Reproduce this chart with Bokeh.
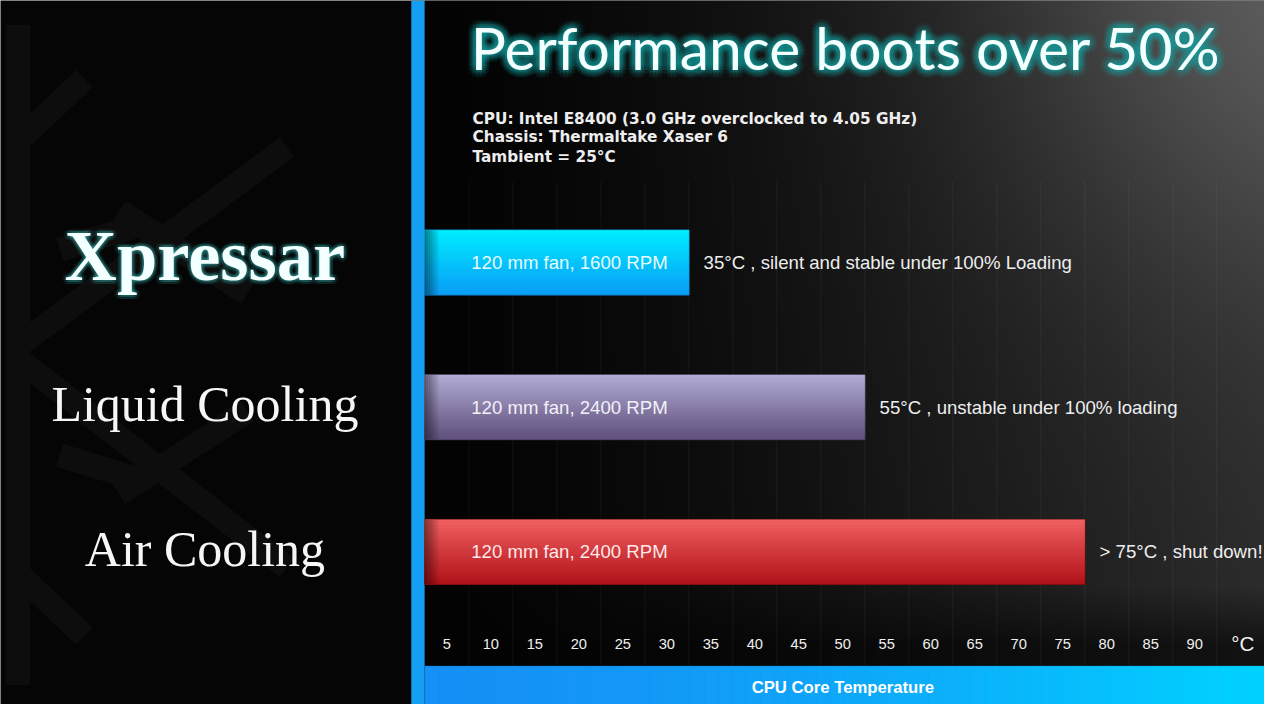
import numpy as np
from bokeh.plotting import figure
from bokeh.models import Range1d
from bokeh.core.properties import value
from bokeh.embed import file_html
from bokeh.resources import INLINE

# ---------------- data ----------------
categories = ["Xpressar", "Liquid Cooling", "Air Cooling"]
core_temp = [35, 55, 80]                       # bar end on the temperature scale (°C)
fan_setup = ["120 mm fan, 1600 RPM", "120 mm fan, 2400 RPM", "120 mm fan, 2400 RPM"]
outcome = ["35°C , silent and stable under 100% Loading",
           "55°C , unstable under 100% loading",
           "> 75°C , shut down!"]
tick_values = [5, 10, 15, 20, 25, 30, 35, 40, 45, 50, 55, 60, 65, 70, 75, 80, 85, 90]
tick_labels = ["5", "10", "15", "20", "25", "30", "35", "40", "45", "50",
               "55", "60", "65", "70", "75", "80", "85", "90"]
unit_label = "°C"
axis_title = "CPU Core Temperature"
title_text = "Performance boots over 50%"
test_notes = ["CPU: Intel E8400 (3.0 GHz overclocked to 4.05 GHz)",
              "Chassis: Thermaltake Xaser 6",
              "Tambient = 25°C"]
axis_start = 5

# ---------------- layout / style ----------------
W, H = 1264, 704
REF_W, REF_H = 1280, 720
FS = 0.98
def fpx(s):
    return "%.1fpx" % (s * FS)

def py(ref_y):          # reference pixel row -> upward 'py' coordinate
    return REF_H - ref_y

ROW_PX = 148.0
n = len(categories)
rows = [n - 1 - i for i in range(n)]          # Xpressar on top
bar_h = 66.0 / ROW_PX

bar_top = ["#00eeff", "#b2aed6", "#f26262"]
bar_bot = ["#0b9cf6", "#5e4e7a", "#b01219"]
bar_edge = ["#0a6fb0", "#3a2f4e", "#5a0a0c"]
fan_text_col = ["#e6fbff", "#f2f0f8", "#ffe8e8"]

p = figure(width=W, height=H,
           x_range=Range1d(-43.23, 100.43), y_range=Range1d(-1.054, 3.811),
           x_axis_location=None, y_axis_location=None,
           output_backend="svg", toolbar_location=None, min_border=0,
           background_fill_color="#050505", border_fill_color="#050505",
           outline_line_color=None)
p.grid.visible = False
p.extra_x_ranges = {"px": Range1d(0, REF_W)}
p.extra_y_ranges = {"py": Range1d(0, REF_H)}

# ---- faint snowflake in the left panel ----
flake_x = [[18, 18], [22, 290], [22, 290], [22, 85], [22, 85], [120, 250], [120, 250], [60, 140], [60, 140]]
flake_y = [[25, 700], [350, 150], [370, 580], [140, 80], [590, 650], [215, 300], [505, 420], [255, 230], [465, 490]]
p.multi_line(xs=flake_x, ys=[[py(v) for v in ys] for ys in flake_y],
             line_color="#0d0d0d", line_width=24, line_cap="butt",
             x_range_name="px", y_range_name="py")

# ---- chart background (dark gradient) ----
gw, gh = 425, 360
xs = 430 + (np.arange(gw) + 0.5) * (850.0 / gw)
yup = (np.arange(gh) + 0.5) * (720.0 / gh)
X, YU = np.meshgrid(xs, yup)
YR = 720 - YU
t = np.clip((X - 430) / 850.0, 0, 1)
L = 48 * t ** 1.3 * (1 - 0.2 * YR / 720.0)
L += 40 * np.exp(-((X - 1300) ** 2 + (YR + 30) ** 2) / (2 * 220.0 ** 2))
fade = np.clip((YR - 600) / 60.0, 0, 1)
L = L * (1 - 0.6 * fade) + 3
L = np.clip(L, 0, 255).astype(np.uint8)
img = np.empty((gh, gw), dtype=np.uint32)
view = img.view(dtype=np.uint8).reshape((gh, gw, 4))
view[..., 0] = L
view[..., 1] = L
view[..., 2] = L
view[..., 3] = 255
p.image_rgba(image=[img], x=430, y=0, dw=850, dh=720, x_range_name="px", y_range_name="py")

# ---- vertical grid lines (cell borders) ----
grid_x = [v + 5 for v in tick_values]
p.segment(x0=grid_x, x1=grid_x, y0=[py(185)] * len(grid_x), y1=[py(681)] * len(grid_x),
          line_color="#ffffff", line_alpha=0.05, line_width=1, y_range_name="py")

# ---- left blue stripe ----
p.quad(left=[416], right=[429.5], bottom=[0], top=[720], fill_color="#149ff2",
       line_color=None, x_range_name="px", y_range_name="py")

# ---- bars ----
def mix(c1, c2, f):
    a = [int(c1[i:i + 2], 16) for i in (1, 3, 5)]
    b = [int(c2[i:i + 2], 16) for i in (1, 3, 5)]
    return "#%02x%02x%02x" % tuple(int(round(a[k] + (b[k] - a[k]) * f)) for k in range(3))

p.hbar(y=rows, left=axis_start, right=core_temp, height=bar_h,
       fill_color=[mix(a, b, 0.5) for a, b in zip(bar_top, bar_bot)],
       line_color=bar_edge, line_width=1.5)
NS = 30
ql, qr, qt, qb, qc = [], [], [], [], []
for i in range(n):
    for k in range(NS):
        ql.append(axis_start)
        qr.append(core_temp[i])
        top = rows[i] + bar_h / 2 - bar_h * k / NS
        qt.append(top)
        qb.append(top - bar_h / NS)
        qc.append(mix(bar_top[i], bar_bot[i], (k + 0.5) / NS))
p.quad(left=ql, right=qr, top=qt, bottom=qb, fill_color=qc, line_color=qc, line_width=0.5)
# dark shading at the left end of each bar
sl, sr, st, sb, sa = [], [], [], [], []
for i in range(n):
    for k in range(8):
        sl.append(axis_start + k * 0.2)
        sr.append(axis_start + (k + 1) * 0.2)
        st.append(rows[i] + bar_h / 2)
        sb.append(rows[i] - bar_h / 2)
        sa.append(0.45 * (1 - k / 8.0))
p.quad(left=sl, right=sr, top=st, bottom=sb, fill_color="#000000", fill_alpha=sa, line_color=None)

# ---- labels inside bars ----
p.text(x=[axis_start] * n, y=rows, text=fan_setup, x_offset=47 * 0.9875,
       text_font=value("Liberation Sans"), text_font_size=fpx(19),
       text_color=fan_text_col, text_align="left", text_baseline="middle")

# ---- outcome notes after bars ----
p.text(x=core_temp, y=rows, text=outcome, x_offset=15 * 0.9875,
       text_font=value("Liberation Sans"), text_font_size=fpx(19),
       text_color="#eeeeee", text_align="left", text_baseline="middle")

# ---- category labels in the left panel ----
cat_y = [rows[0] + 7.0 / ROW_PX] + [r + 3.0 / ROW_PX for r in rows[1:]]
ring = [(r * np.cos(a), r * np.sin(a)) for r in (2, 4) for a in np.linspace(0, 2 * np.pi, 12, endpoint=False)]
for dx, dy in ring:
    p.text(x=[207], y=[cat_y[0]], text=[categories[0]], x_offset=dx, y_offset=dy,
           text_font=value("Liberation Serif"), text_font_style="bold", text_font_size=fpx(74),
           text_color="#3fd0d0", text_alpha=0.06, text_align="center",
           text_baseline="middle", x_range_name="px")
p.text(x=[207], y=[cat_y[0]], text=[categories[0]],
       text_font=value("Liberation Serif"), text_font_style="bold", text_font_size=fpx(74),
       text_color="#f4ffff", text_align="center", text_baseline="middle", x_range_name="px")
p.text(x=[207] * (n - 1), y=cat_y[1:], text=categories[1:],
       text_font=value("Liberation Serif"), text_font_size=fpx(51),
       text_color="#f6f6f6", text_align="center", text_baseline="middle", x_range_name="px")

# ---- title ----
tring = [(r * np.cos(a), r * np.sin(a)) for r in (2, 4, 6, 8) for a in np.linspace(0, 2 * np.pi, 12, endpoint=False)]
for dx, dy in tring:
    p.text(x=[856], y=[py(48)], text=[title_text], x_offset=dx, y_offset=dy,
           text_font=value("Lato"), text_font_size=fpx(60),
           text_color="#16b0b0", text_alpha=0.07, text_align="center",
           text_baseline="middle", x_range_name="px", y_range_name="py")
p.text(x=[856], y=[py(48)], text=[title_text],
       text_font=value("Lato"), text_font_size=fpx(60),
       text_color="#f4ffff", text_align="center", text_baseline="middle",
       x_range_name="px", y_range_name="py")

# ---- test conditions ----
p.text(x=[478] * len(test_notes), y=[py(121), py(140), py(160)], text=test_notes,
       text_font=value("DejaVu Sans"), text_font_style="bold", text_font_size=fpx(15.6),
       text_color="#eeeeee", text_align="left", text_baseline="middle",
       x_range_name="px", y_range_name="py")

# ---- temperature tick labels (centred in each 5 °C cell) ----
p.text(x=[v + 2.5 for v in tick_values], y=[py(658)] * len(tick_values), text=tick_labels,
       text_font=value("Liberation Sans"), text_font_size=fpx(15),
       text_color="#f0f0f0", text_align="center", text_baseline="middle", y_range_name="py")
p.text(x=[1258], y=[py(658)], text=[unit_label],
       text_font=value("Liberation Sans"), text_font_size=fpx(21),
       text_color="#f0f0f0", text_align="center", text_baseline="middle",
       x_range_name="px", y_range_name="py")

# ---- bottom axis band ----
NB = 60
bx = np.linspace(430, 1280, NB + 1)
band_cols = [mix("#1590f6", "#00d2ff", (k / (NB - 1)) ** 1.5) for k in range(NB)]
p.quad(left=bx[:-1], right=bx[1:], bottom=[0] * NB, top=[py(681)] * NB,
       fill_color=band_cols, line_color=band_cols, x_range_name="px", y_range_name="py")
p.text(x=[853], y=[py(703)], text=[axis_title],
       text_font=value("Liberation Sans"), text_font_style="bold", text_font_size=fpx(17),
       text_color="#ffffff", text_align="center", text_baseline="middle",
       x_range_name="px", y_range_name="py")

open("out.html", "w").write(file_html(p, INLINE))
